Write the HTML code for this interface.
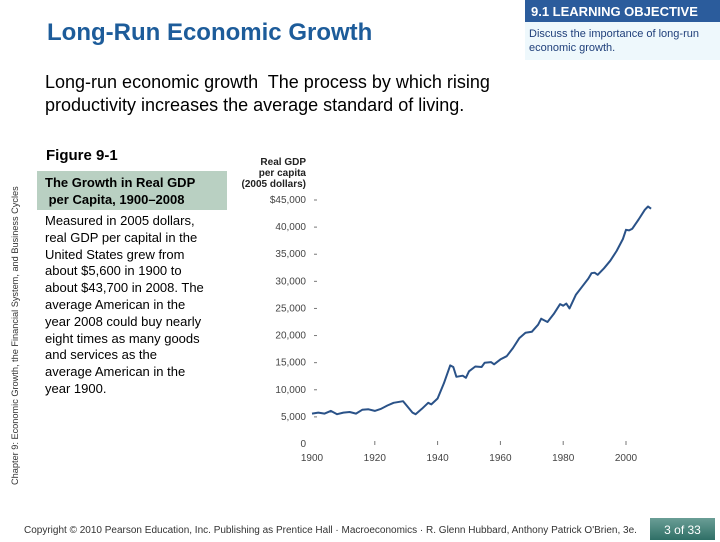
<!DOCTYPE html>
<html><head><meta charset="utf-8"><style>
body{margin:0;width:720px;height:540px;position:relative;background:#fff;font-family:"Liberation Sans",Arial,sans-serif;overflow:hidden}
.a{position:absolute}
</style></head><body>
<div class="a" style="left:47px;top:19px;font-size:24px;font-weight:bold;color:#1d5c9a;">Long-Run Economic Growth</div>
<div class="a" style="left:525px;top:0;width:195px;height:22px;background:#2b5c9c;color:#fff;font-weight:bold;font-size:13px;line-height:24px;padding-left:6px;box-sizing:border-box">9.1 LEARNING OBJECTIVE</div>
<div class="a" style="left:525px;top:22px;width:195px;height:38px;background:#eef8fc;color:#1f3f7a;font-size:11px;line-height:14px;padding:5px 0 0 4px;box-sizing:border-box">Discuss the importance of long-run economic growth.</div>
<div class="a" style="left:45px;top:71px;width:540px;font-size:18px;line-height:23px;color:#000">Long-run economic growth&nbsp; The process by which rising productivity increases the average standard of living.</div>
<div class="a" style="left:10px;top:485px;transform-origin:0 0;transform:rotate(-90deg);font-size:9.2px;color:#333;white-space:nowrap;width:300px">Chapter 9: Economic Growth, the Financial System, and Business Cycles</div>
<div class="a" style="left:46px;top:147px;font-size:15px;font-weight:bold">Figure 9-1</div>
<div class="a" style="left:37px;top:171px;width:190px;height:39px;background:#b9d0c2;font-size:13px;font-weight:bold;line-height:17px;padding:3px 0 0 8px;box-sizing:border-box">The Growth in Real GDP<br>&nbsp;per Capita, 1900–2008</div>
<div class="a" style="left:45px;top:213px;width:180px;font-size:13px;line-height:16.8px;white-space:nowrap">Measured in 2005 dollars,<br>real GDP per capital in the<br>United States grew from<br>about $5,600 in 1900 to<br>about $43,700 in 2008. The<br>average American in the<br>year 2008 could buy nearly<br>eight times as many goods<br>and services as the<br>average American in the<br>year 1900.</div>
<svg class="a" style="left:0;top:0" width="720" height="540" id="chart"></svg>
<div class="a" style="left:24px;top:525px;font-size:10px;color:#333">Copyright © 2010 Pearson Education, Inc. Publishing as Prentice Hall · Macroeconomics · R. Glenn Hubbard, Anthony Patrick O'Brien, 3e.</div>
<div class="a" style="left:650px;top:518px;width:65px;height:22px;background:linear-gradient(#6a9e96,#2f6f66);color:#fff;font-size:12px;text-align:center;line-height:24px">3 of 33</div>
<script>
const years=[1900,1902,1904,1906,1908,1910,1912,1914,1916,1918,1920,1922,1924,1926,1929,1930,1932,1933,1935,1937,1938,1940,1942,1944,1945,1946,1948,1949,1950,1952,1954,1955,1957,1958,1960,1962,1964,1966,1968,1970,1972,1973,1975,1977,1979,1980,1981,1982,1984,1986,1988,1989,1990,1991,1993,1995,1997,1999,2000,2001,2002,2004,2006,2007,2008];
const gdp=[5600,5800,5600,6100,5500,5800,5900,5600,6300,6400,6100,6500,7100,7600,7900,7200,5800,5500,6500,7600,7300,8400,11200,14500,14200,12400,12600,12200,13400,14300,14200,15000,15100,14700,15600,16200,17700,19500,20500,20700,22000,23100,22500,24000,25800,25500,25900,25000,27500,29000,30500,31500,31600,31200,32400,33800,35600,37800,39500,39400,39700,41400,43200,43800,43400];
const yTicks=[0,5000,10000,15000,20000,25000,30000,35000,40000,45000];
const yTickLabels=["0","5,000","10,000","15,000","20,000","25,000","30,000","35,000","40,000","$45,000"];
const xTicks=[1900,1920,1940,1960,1980,2000];
const X=v=>312+(v-1900)*3.14;
const Y=v=>444-v*(244/45000);
const svg=document.getElementById('chart');const NS='http://www.w3.org/2000/svg';
function mk(t,a,txt){const e=document.createElementNS(NS,t);for(const k in a)e.setAttribute(k,a[k]);if(txt!=null)e.textContent=txt;svg.appendChild(e);return e;}
const tt=["Real GDP","per capita","(2005 dollars)"];
tt.forEach((s,i)=>{const e=mk('text',{x:306,y:165+i*11,'text-anchor':'end','font-size':10,'font-weight':'bold',fill:'#222'},s);

});
yTicks.forEach((v,i)=>{const e=mk('text',{x:306,y:Y(v)+3,'text-anchor':'end','font-size':10,fill:'#444'},yTickLabels[i]);


if(v>0){const l=mk('line',{x1:314,x2:317,y1:Y(v),y2:Y(v),stroke:'#777','stroke-width':1});

}});
xTicks.forEach(v=>{const e=mk('text',{x:X(v),y:461,'text-anchor':'middle','font-size':10,fill:'#444'},String(v));


if(v>1900){const l=mk('line',{x1:X(v),x2:X(v),y1:441,y2:445,stroke:'#777','stroke-width':1});

}});
const d=years.map((y,i)=>(i?'L':'M')+X(y).toFixed(1)+','+Y(gdp[i]).toFixed(1)).join(' ');
const p=mk('path',{d:d,fill:'none',stroke:'#2a5288','stroke-width':2,'stroke-linejoin':'round'});


</script>
</body></html>
